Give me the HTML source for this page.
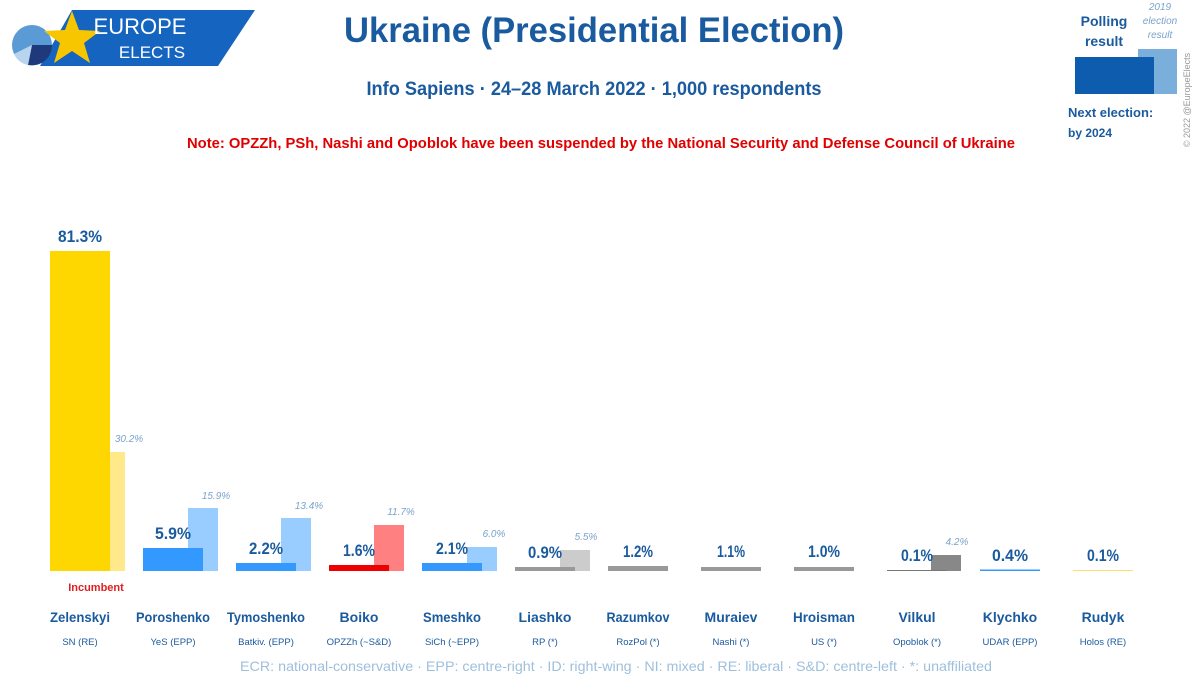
<!DOCTYPE html>
<html><head><meta charset="utf-8"><style>
body{margin:0;background:#fff;}
svg{display:block;font-family:"Liberation Sans",sans-serif;}
</style></head><body>
<svg width="1200" height="684" viewBox="0 0 1200 684" xmlns="http://www.w3.org/2000/svg">
<rect width="1200" height="684" fill="#fff"/>
<!-- logo -->
<polygon points="72,10 255,10 218,66 40,66" fill="#1565c0"/>
<circle cx="32" cy="45" r="20" fill="#5b9bd5"/>
<path d="M32,45 L52,45 A20,20 0 0 1 28,65 Z" fill="#1f3a7a"/>
<path d="M32,45 L28,65 A20,20 0 0 1 14,54 Z" fill="#b8d4ee"/>
<polygon points="72,11 79,30 100,31 84,43 90,63 72,51 54,63 60,43 44,31 65,30" fill="#f7c600"/>
<text x="140" y="34" font-size="22" fill="#fff" text-anchor="middle">EUROPE</text>
<text x="152" y="58" font-size="17" fill="#fff" text-anchor="middle">ELECTS</text>
<!-- titles -->
<text x="594" y="42" font-size="35" font-weight="bold" fill="#1a5a9e" text-anchor="middle" textLength="500" lengthAdjust="spacingAndGlyphs">Ukraine (Presidential Election)</text>
<text x="594" y="95" font-size="19" font-weight="bold" fill="#1a5a9e" text-anchor="middle" textLength="455" lengthAdjust="spacingAndGlyphs">Info Sapiens · 24–28 March 2022 · 1,000 respondents</text>
<text x="601" y="148" font-size="15" font-weight="bold" fill="#e00000" text-anchor="middle" textLength="828" lengthAdjust="spacingAndGlyphs">Note: OPZZh, PSh, Nashi and Opoblok have been suspended by the National Security and Defense Council of Ukraine</text>
<!-- legend -->
<text x="1104" y="26" font-size="14" font-weight="bold" fill="#1a5a9e" text-anchor="middle">Polling</text>
<text x="1104" y="46" font-size="14" font-weight="bold" fill="#1a5a9e" text-anchor="middle">result</text>
<text x="1160" y="10" font-size="10" font-style="italic" fill="#7aa3cc" text-anchor="middle">2019</text>
<text x="1160" y="24" font-size="10" font-style="italic" fill="#7aa3cc" text-anchor="middle">election</text>
<text x="1160" y="38" font-size="10" font-style="italic" fill="#7aa3cc" text-anchor="middle">result</text>
<rect x="1138" y="49" width="39" height="45" fill="#7aaedb"/>
<rect x="1075" y="57" width="79" height="37" fill="#0d5cad"/>
<text x="1068" y="117" font-size="13" font-weight="bold" fill="#1a5a9e">Next election:</text>
<text x="1068" y="137" font-size="12" font-weight="bold" fill="#1a5a9e">by 2024</text>
<text transform="translate(1190,100) rotate(-90)" font-size="9" fill="#999" text-anchor="middle">© 2022 @EuropeElects</text>
<!-- bars -->
<g>
<rect x="95" y="452" width="30" height="119" fill="#ffe98a"/>
<rect x="50" y="251" width="60" height="320" fill="#ffd700"/>
<rect x="188" y="508" width="30" height="63" fill="#99ccff"/>
<rect x="143" y="548" width="60" height="23" fill="#3399ff"/>
<rect x="281" y="518" width="30" height="53" fill="#99ccff"/>
<rect x="236" y="563" width="60" height="8" fill="#3399ff"/>
<rect x="374" y="525" width="30" height="46" fill="#ff8080"/>
<rect x="329" y="565" width="60" height="6" fill="#ee0000"/>
<rect x="467" y="547" width="30" height="24" fill="#99ccff"/>
<rect x="422" y="563" width="60" height="8" fill="#3399ff"/>
<rect x="560" y="550" width="30" height="21" fill="#cccccc"/>
<rect x="515" y="567" width="60" height="4" fill="#999999"/>
<rect x="608" y="566" width="60" height="5" fill="#999999"/>
<rect x="701" y="567" width="60" height="4" fill="#999999"/>
<rect x="794" y="567" width="60" height="4" fill="#999999"/>
<rect x="931" y="555" width="30" height="16" fill="#888888"/>
<rect x="887" y="570" width="60" height="1" fill="#777777"/>
<rect x="980" y="569.5" width="60" height="1.5" fill="#3399ff"/>
<rect x="1073" y="570" width="60" height="1" fill="#ffe066"/>
</g>
<!-- values -->
<g font-size="17" font-weight="bold" fill="#1a5a9e" text-anchor="middle">
<text x="80" y="242" textLength="44" lengthAdjust="spacingAndGlyphs">81.3%</text>
<text x="173" y="539" textLength="36" lengthAdjust="spacingAndGlyphs">5.9%</text>
<text x="266" y="554" textLength="34" lengthAdjust="spacingAndGlyphs">2.2%</text>
<text x="359" y="556" textLength="32" lengthAdjust="spacingAndGlyphs">1.6%</text>
<text x="452" y="554" textLength="32" lengthAdjust="spacingAndGlyphs">2.1%</text>
<text x="545" y="558" textLength="34" lengthAdjust="spacingAndGlyphs">0.9%</text>
<text x="638" y="557" textLength="30" lengthAdjust="spacingAndGlyphs">1.2%</text>
<text x="731" y="557" textLength="28" lengthAdjust="spacingAndGlyphs">1.1%</text>
<text x="824" y="557" textLength="32" lengthAdjust="spacingAndGlyphs">1.0%</text>
<text x="917" y="561" textLength="32" lengthAdjust="spacingAndGlyphs">0.1%</text>
<text x="1010" y="561" textLength="36" lengthAdjust="spacingAndGlyphs">0.4%</text>
<text x="1103" y="561" textLength="32" lengthAdjust="spacingAndGlyphs">0.1%</text>
</g>
<g font-size="10" font-style="italic" fill="#7aa3cc" text-anchor="middle">
<text x="129" y="442">30.2%</text>
<text x="216" y="499">15.9%</text>
<text x="309" y="509">13.4%</text>
<text x="401" y="515">11.7%</text>
<text x="494" y="537">6.0%</text>
<text x="586" y="540">5.5%</text>
<text x="957" y="545">4.2%</text>
</g>
<text x="96" y="591" font-size="11" font-weight="bold" fill="#e02020" text-anchor="middle">Incumbent</text>
<!-- names -->
<g font-size="14" font-weight="bold" fill="#1a5a9e" text-anchor="middle">
<text x="80" y="622" textLength="60" lengthAdjust="spacingAndGlyphs">Zelenskyi</text>
<text x="173" y="622" textLength="74" lengthAdjust="spacingAndGlyphs">Poroshenko</text>
<text x="266" y="622" textLength="78" lengthAdjust="spacingAndGlyphs">Tymoshenko</text>
<text x="359" y="622">Boiko</text>
<text x="452" y="622" textLength="58" lengthAdjust="spacingAndGlyphs">Smeshko</text>
<text x="545" y="622">Liashko</text>
<text x="638" y="622" textLength="63" lengthAdjust="spacingAndGlyphs">Razumkov</text>
<text x="731" y="622">Muraiev</text>
<text x="824" y="622" textLength="62" lengthAdjust="spacingAndGlyphs">Hroisman</text>
<text x="917" y="622">Vilkul</text>
<text x="1010" y="622">Klychko</text>
<text x="1103" y="622">Rudyk</text>
</g>
<g font-size="9.5" fill="#1a5a9e" text-anchor="middle">
<text x="80" y="645">SN (RE)</text>
<text x="173" y="645">YeS (EPP)</text>
<text x="266" y="645">Batkiv. (EPP)</text>
<text x="359" y="645">OPZZh (~S&amp;D)</text>
<text x="452" y="645">SiCh (~EPP)</text>
<text x="545" y="645">RP (*)</text>
<text x="638" y="645">RozPol (*)</text>
<text x="731" y="645">Nashi (*)</text>
<text x="824" y="645">US (*)</text>
<text x="917" y="645">Opoblok (*)</text>
<text x="1010" y="645">UDAR (EPP)</text>
<text x="1103" y="645">Holos (RE)</text>
</g>
<text x="616" y="671" font-size="14" fill="#9ebfdc" text-anchor="middle" textLength="752" lengthAdjust="spacingAndGlyphs">ECR: national-conservative · EPP: centre-right · ID: right-wing · NI: mixed · RE: liberal · S&amp;D: centre-left · *: unaffiliated</text>
</svg>
</body></html>
